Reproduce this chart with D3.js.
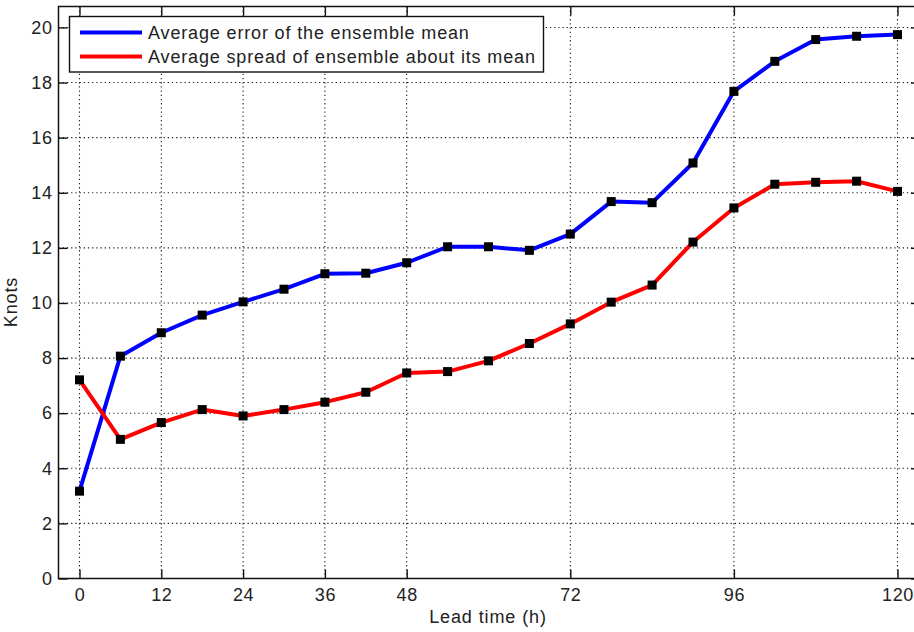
<!DOCTYPE html>
<html>
<head>
<meta charset="utf-8">
<script src="https://cdn.jsdelivr.net/npm/d3@7"></script>
<style>
  html, body { margin: 0; padding: 0; background: #fff; }
  svg { display: block; font-family: "Liberation Sans", Arial, sans-serif; }
</style>
</head>
<body>
<svg id="chart" width="914" height="632"></svg>
<script>
// Lead times (hours)
const leadTimes = [0, 6, 12, 18, 24, 30, 36, 42, 48, 54, 60, 66, 72, 78, 84, 90, 96, 102, 108, 114, 120];
// Average error of the ensemble mean (knots)
const errorValues = [3.17, 8.07, 8.92, 9.56, 10.04, 10.5, 11.06, 11.08, 11.46, 12.04, 12.04, 11.91, 12.5, 13.68, 13.64, 15.08, 17.68, 18.77, 19.56, 19.68, 19.74];
// Average spread of the ensemble about its mean (knots)
const spreadValues = [7.21, 5.05, 5.66, 6.13, 5.9, 6.13, 6.4, 6.76, 7.46, 7.51, 7.9, 8.53, 9.24, 10.03, 10.65, 12.21, 13.45, 14.31, 14.38, 14.42, 14.05];
const xTicks = [0, 12, 24, 36, 48, 72, 96, 120];
const yTicks = [0, 2, 4, 6, 8, 10, 12, 14, 16, 18, 20];
const seriesNames = ["Average error of the ensemble mean", "Average spread of ensemble about its mean"];
const seriesColors = ["#0000ff", "#ff0000"];

const svg = d3.select("#chart");
const margin = { left: 58.5, top: 6.5, right: 920, bottom: 578.5 };

const x = d3.scaleLinear().domain([-3.08, 123.3]).range([margin.left, margin.right]);
const y = d3.scaleLinear().domain([0, 20.76]).range([margin.bottom, margin.top]);

const tickLen = 9;
const gridColor = "#222";
const fontSize = "18px";

// Grid lines (dotted)
const grid = svg.append("g");
grid.selectAll("line.gx").data(xTicks).join("line")
  .attr("x1", d => x(d)).attr("x2", d => x(d))
  .attr("y1", margin.top).attr("y2", margin.bottom)
  .attr("stroke", gridColor).attr("stroke-width", 1.1)
  .attr("stroke-dasharray", "1.3,2.9");
grid.selectAll("line.gy").data(yTicks.filter(d => d > 0)).join("line")
  .attr("y1", d => y(d)).attr("y2", d => y(d))
  .attr("x1", margin.left).attr("x2", margin.right)
  .attr("stroke", gridColor).attr("stroke-width", 1.1)
  .attr("stroke-dasharray", "1.3,2.9");

// Axes: ticks pointing inward, box on all sides
const xAxisBottom = d3.axisBottom(x).tickValues(xTicks).tickSize(-tickLen).tickPadding(10).tickFormat(d3.format("d"));
const xAxisTop = d3.axisTop(x).tickValues(xTicks).tickSize(-tickLen).tickFormat("");
const yAxisLeft = d3.axisLeft(y).tickValues(yTicks).tickSize(-tickLen).tickPadding(6).tickFormat(d3.format("d"));
const yAxisRight = d3.axisRight(y).tickValues(yTicks).tickSize(-tickLen).tickFormat("");

function styleAxis(g) {
  g.select(".domain").remove();
  g.selectAll(".tick line").attr("stroke", "#111").attr("stroke-width", 1.4);
  g.selectAll(".tick text").attr("fill", "#222")
    .style("font-size", fontSize).style("letter-spacing", "0.6px");
}

svg.append("g").attr("transform", `translate(0,${margin.bottom})`).call(xAxisBottom).call(styleAxis);
svg.append("g").attr("transform", `translate(0,${margin.top})`).call(xAxisTop).call(styleAxis);
svg.append("g").attr("transform", `translate(${margin.left},0)`).call(yAxisLeft).call(styleAxis);
svg.append("g").attr("transform", `translate(${margin.right},0)`).call(yAxisRight).call(styleAxis);

// Axes box
svg.append("rect")
  .attr("x", margin.left).attr("y", margin.top)
  .attr("width", margin.right - margin.left).attr("height", margin.bottom - margin.top)
  .attr("fill", "none").attr("stroke", "#111").attr("stroke-width", 1.5);

// Series
const series = [errorValues, spreadValues];
const line = d3.line().x((d, i) => x(leadTimes[i])).y(d => y(d));
series.forEach((vals, k) => {
  svg.append("path")
    .datum(vals)
    .attr("d", line)
    .attr("fill", "none")
    .attr("stroke", seriesColors[k])
    .attr("stroke-width", 4)
    .attr("stroke-linejoin", "round");
});
const ms = 9;
series.forEach(vals => {
  svg.append("g").selectAll("rect").data(vals).join("rect")
    .attr("x", (d, i) => x(leadTimes[i]) - ms / 2)
    .attr("y", d => y(d) - ms / 2)
    .attr("width", ms).attr("height", ms)
    .attr("fill", "#000");
});

// Axis titles
svg.append("text")
  .attr("x", 488).attr("y", 623)
  .attr("text-anchor", "middle").attr("fill", "#222")
  .style("font-size", fontSize).style("letter-spacing", "0.9px")
  .text("Lead time (h)");
svg.append("text")
  .attr("transform", `translate(17,302) rotate(-90)`)
  .attr("text-anchor", "middle").attr("fill", "#222")
  .style("font-size", fontSize).style("letter-spacing", "0.9px")
  .text("Knots");

// Legend
const legend = svg.append("g");
legend.append("rect")
  .attr("x", 69.5).attr("y", 16.5).attr("width", 474).attr("height", 55.5)
  .attr("fill", "#fff").attr("stroke", "#111").attr("stroke-width", 1.4);
seriesNames.forEach((name, k) => {
  const ly = 32.5 + k * 24;
  legend.append("line")
    .attr("x1", 80).attr("x2", 142).attr("y1", ly).attr("y2", ly)
    .attr("stroke", seriesColors[k]).attr("stroke-width", 4);
  legend.append("text")
    .attr("x", 148).attr("y", ly + 6.5)
    .attr("fill", "#222").style("font-size", fontSize).style("letter-spacing", "0.85px")
    .text(name);
});
</script>
</body>
</html>
